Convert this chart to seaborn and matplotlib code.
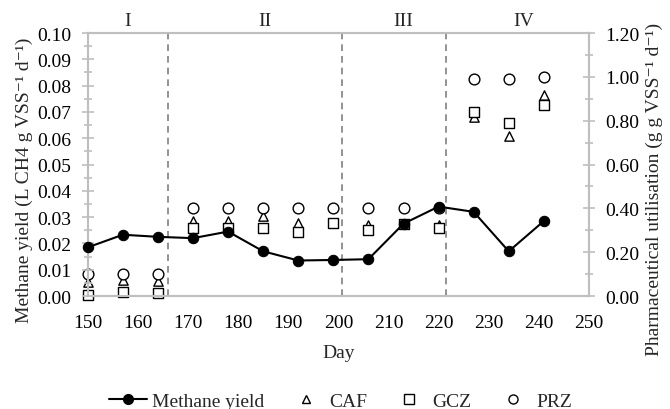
import matplotlib
matplotlib.use("Agg")
import matplotlib.pyplot as plt
import seaborn as sns
import pandas as pd
from matplotlib.ticker import MultipleLocator, FormatStrFormatter
from matplotlib.lines import Line2D

sns.set_theme(style="white")
plt.rcParams['font.family'] = ['Liberation Serif', 'DejaVu Serif']
plt.rcParams['mathtext.fontset'] = 'stix'

days = [150, 157, 164, 171, 178, 185, 192, 199, 206, 213, 220, 227, 234, 241]
methane = [0.0185, 0.0233, 0.0225, 0.0220, 0.0245, 0.0170, 0.0135, 0.0137, 0.0140,
           0.0275, 0.0340, 0.0320, 0.0170, 0.0285]
caf = [0.063, 0.074, 0.070, 0.340, 0.340, 0.366, 0.333, 0.335, 0.324, 0.330, 0.325,
       0.815, 0.730, 0.915]
gcz = [0.005, 0.017, 0.012, 0.310, 0.310, 0.310, 0.290, 0.335, 0.300, 0.330, 0.310,
       0.840, 0.790, 0.870]
prz = [0.102, 0.102, 0.102, 0.400, 0.400, 0.400, 0.400, 0.400, 0.400, 0.400, 0.400,
       0.990, 0.990, 1.000]
phase_bounds = [166, 200.8, 221.5]
phase_labels = ["I", "II", "III", "IV"]
phase_label_x = [158, 185.3, 213, 237]

df = pd.DataFrame({"Day": days, "Methane": methane, "CAF": caf, "GCZ": gcz, "PRZ": prz})

fig = plt.figure(figsize=(6.7, 4.1), dpi=100)
ax = fig.add_axes([0.131, 0.2756, 0.748, 0.6414])
ax2 = ax.twinx()

grey = "#bfbfbf"
fs = 14

# pharma on secondary axis
kw = dict(facecolors="white", edgecolors="black", linewidths=1.0, zorder=3, clip_on=False)
ax2.scatter(df["Day"], df["CAF"], marker="^", s=45, **kw)
ax2.scatter(df["Day"], df["GCZ"], marker="s", s=45, **kw)
ax2.scatter(df["Day"], df["PRZ"], marker="o", s=60, **kw)

ax.set_zorder(ax2.get_zorder() + 1)
ax.patch.set_visible(False)
sns.lineplot(data=df, x="Day", y="Methane", ax=ax, color="black", marker="o",
             markersize=7.5, markeredgecolor="black", linewidth=1.5, zorder=4, clip_on=False)

for b in phase_bounds:
    ax.axvline(b, color="#808080", linestyle=(0, (4, 3)), linewidth=1.2, zorder=1)
for lab, x in zip(phase_labels, phase_label_x):
    ax.text(x, 1.015, lab, transform=ax.get_xaxis_transform(), ha="center", va="bottom", fontsize=fs)

ax.set_xlim(150, 250)
ax.set_ylim(0, 0.10)
ax2.set_ylim(0, 1.2)
ax.xaxis.set_major_locator(MultipleLocator(10))
ax.yaxis.set_major_locator(MultipleLocator(0.01))
ax.yaxis.set_minor_locator(MultipleLocator(0.005))
ax.yaxis.set_major_formatter(FormatStrFormatter("%.2f"))
ax2.yaxis.set_major_locator(MultipleLocator(0.2))
ax2.yaxis.set_minor_locator(MultipleLocator(0.1))
ax2.yaxis.set_major_formatter(FormatStrFormatter("%.2f"))

for a in (ax, ax2):
    for s in a.spines.values():
        s.set_color(grey)
        s.set_linewidth(1.5)
    a.tick_params(axis="both", which="both", direction="inout", color=grey, width=1.2,
                  labelsize=fs, labelcolor="black")
    a.tick_params(which="major", length=8)
    a.tick_params(which="minor", length=6)
ax.tick_params(axis="x", pad=9)
ax.tick_params(axis="y", which="both", right=False, pad=8)
ax2.tick_params(axis="y", which="both", left=False, pad=8)

ax.set_xlabel("Day", fontsize=fs, labelpad=9)
ax.set_ylabel("Methane yield (L CH4 g VSS\u207b\u00b9 d\u207b\u00b9)", fontsize=fs, labelpad=3)
ax2.set_ylabel("Pharmaceutical utilisation (g g VSS\u207b\u00b9 d\u207b\u00b9)", fontsize=fs, labelpad=4)
ax.yaxis.label.set_y(0.445)
ax2.yaxis.label.set_y(0.41)
if ax.get_legend() is not None:
    ax.get_legend().remove()

handles = [
    Line2D([], [], color="black", marker="o", markersize=7, linewidth=1.5),
    Line2D([], [], color="black", marker="^", markerfacecolor="white", markersize=6, linestyle="none"),
    Line2D([], [], color="black", marker="s", markerfacecolor="white", markersize=6.5, linestyle="none"),
    Line2D([], [], color="black", marker="o", markerfacecolor="white", markersize=6.5, linestyle="none"),
]
fig.legend(handles, ["Methane yield", "CAF", "GCZ", "PRZ"], loc="center",
           bbox_to_anchor=(0.509, 0.02), ncol=4, frameon=False, fontsize=fs,
           handlelength=1.95, columnspacing=1.15, handletextpad=0.25, borderpad=0.1)

fig.savefig("out.png", dpi=100)
